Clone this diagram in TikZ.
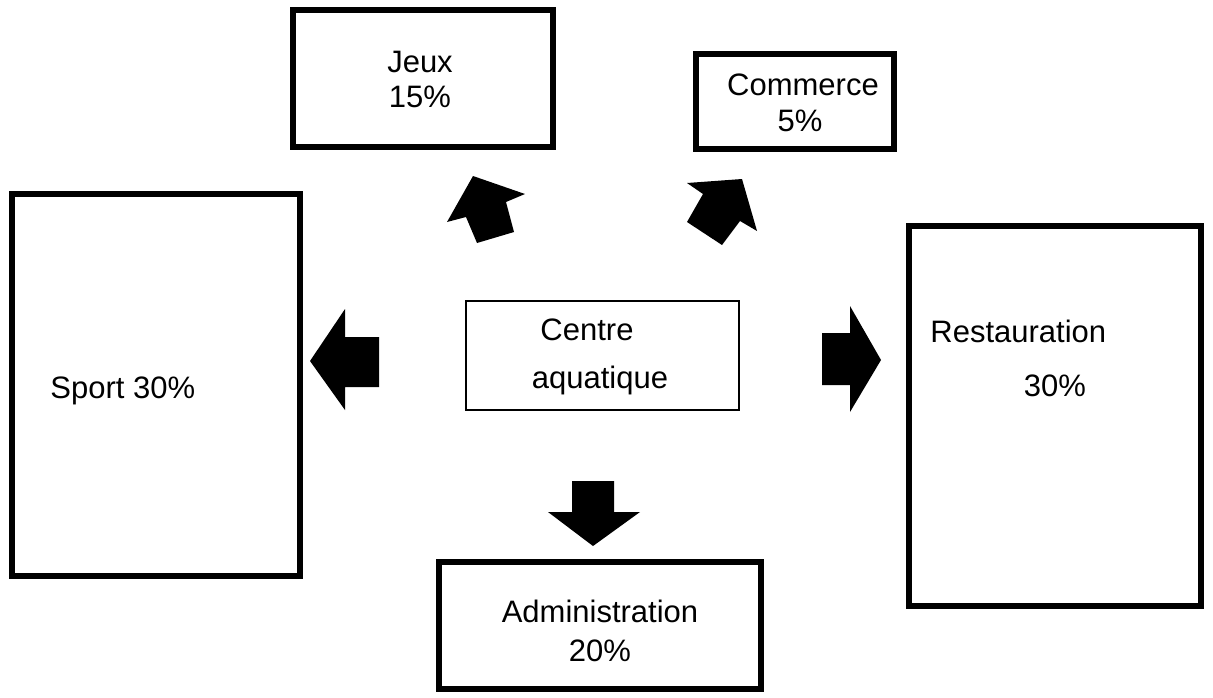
\documentclass[tikz,border=0pt]{standalone}
\usepackage{fontspec}
\setmainfont{Liberation Sans}
\begin{document}
\begin{tikzpicture}[x=0.5pt,y=-0.5pt,
  box/.style={draw=black,line width=2.8pt,fill=white,inner sep=0pt},
  thinbox/.style={draw=black,line width=0.8pt,fill=white,inner sep=0pt},
  lbl/.style={inner sep=0pt,font=\fontsize{15.5}{17}\selectfont},
  blockarrow/.style={fill=black,draw=none}]
\useasboundingbox (0,0) rectangle (1213,697);
% boxes
\node[box,minimum width=130pt,minimum height=68.5pt] (jeux) at (423,78.5) {};
\node[box,minimum width=99pt,minimum height=47.5pt] (commerce) at (795,101.5) {};
\node[box,minimum width=144pt,minimum height=191pt] (sport) at (156,385) {};
\node[thinbox,minimum width=136.5pt,minimum height=54.5pt] (centre) at (602.5,355.5) {};
\node[box,minimum width=146pt,minimum height=190pt] (resto) at (1055,416) {};
\node[box,minimum width=161pt,minimum height=63.5pt] (admin) at (600,625.5) {};
% texts
\node[lbl] (tjeux) at (420,62) {Jeux};
\node[lbl] (pjeux) at (420,97) {15\%};
\node[lbl] (tcomm) at (803,85) {Commerce};
\node[lbl] (pcomm) at (800,121) {5\%};
\node[lbl,anchor=west] (tsport) at (50,391) {Sport 30\%};
\node[lbl] (tcentre) at (587,330) {Centre};
\node[lbl] (taqua) at (600,380) {aquatique};
\node[lbl,anchor=west] (tresto) at (930,331) {Restauration};
\node[lbl] (presto) at (1055,386) {30\%};
\node[lbl] (tadmin) at (600,611) {Administration};
\node[lbl] (padmin) at (600,651) {20\%};
% block arrows
\fill[blockarrow] (473,176) -- (525,194) -- (506,202) -- (514,232) -- (477,243) -- (466,217) -- (447,222) -- cycle;
\fill[blockarrow] (742,179) -- (757,231) -- (740,221) -- (722,245) -- (687,222) -- (703,194) -- (687,183) -- cycle;
\fill[blockarrow] (310,361) -- (345,309) -- (345,337) -- (379,337) -- (379,387) -- (345,387) -- (345,410) -- cycle;
\fill[blockarrow] (881,360) -- (850,306) -- (850,333) -- (822,333) -- (822,385) -- (850,385) -- (850,412) -- cycle;
\fill[blockarrow] (593,546) -- (548,512) -- (572,512) -- (572,481) -- (614,481) -- (614,512) -- (640,512) -- cycle;
\end{tikzpicture}
\end{document}
